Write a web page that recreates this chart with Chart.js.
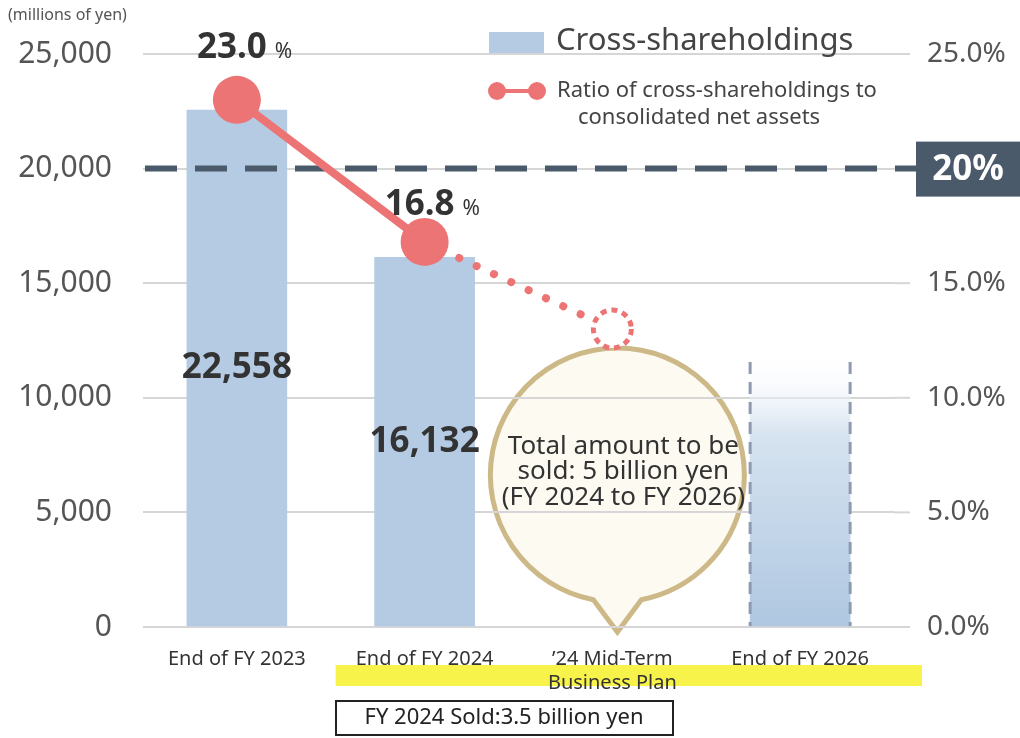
<!DOCTYPE html>
<html>
<head>
<meta charset="utf-8">
<script src="https://cdn.jsdelivr.net/npm/chart.js@4.4.1/dist/chart.umd.min.js"></script>
<style>
  html, body { margin: 0; padding: 0; background: #fff; }
  #wrap { width: 1020px; height: 738px; position: relative; }
</style>
</head>
<body>
<div id="wrap"><canvas id="mycanvas" width="1020" height="738"></canvas></div>
<script>
// data
var categories = ['End of FY 2023', 'End of FY 2024', ['\u201924 Mid-Term', 'Business Plan'], 'End of FY 2026'];
var holdings = [22558, 16132, null, 12000];      // millions of yen (last one is the plan bar)
var ratio = [23.0, 16.8, 13.0, null];             // % of consolidated net assets
var leftMax = 25000, leftStep = 5000;
var rightMax = 25, rightStep = 5;
var targetLine = 20;                               // 20% target

var FONT = "'Noto Sans', 'Open Sans', sans-serif";
var BAR = '#b5cbe3';
var RED = '#ec7474';
var SLATE = '#4a5a6b';

function planGradient(context) {
  var chart = context.chart;
  var area = chart.chartArea;
  if (!area) return BAR;
  var yTop = chart.scales.y.getPixelForValue(holdings[3]);
  var g = chart.ctx.createLinearGradient(0, yTop, 0, area.bottom);
  g.addColorStop(0, 'rgba(255,255,255,0)');
  g.addColorStop(0.3, '#d6e3f0');
  g.addColorStop(1, '#afc7e1');
  return g;
}

var decorations = {
  id: 'decorations',
  beforeDraw: function(chart) {
    var ctx = chart.ctx, x = chart.scales.x, y = chart.scales.y, area = chart.chartArea;
    ctx.save();
    // grid lines run a bit past the plot area
    ctx.strokeStyle = '#d6d6d6';
    ctx.lineWidth = 2;
    y.ticks.forEach(function(t) {
      var py = y.getPixelForValue(t.value);
      ctx.beginPath(); ctx.moveTo(area.right, py); ctx.lineTo(910, py); ctx.stroke();
    });
    // yellow band under second line of tick label
    ctx.fillStyle = '#f7f34a';
    var bl = x.getPixelForValue(1) - 89;
    ctx.fillRect(bl, 665, 922 - bl, 21);
    // speech balloon
    var cx = x.getPixelForValue(2) + 5, cy = 475, r = 127;
    var tipY = area.bottom + 5;
    ctx.beginPath();
    ctx.arc(cx, cy, r, Math.PI / 2 + 0.19, Math.PI / 2 - 0.19 + Math.PI * 2);
    ctx.lineTo(cx, tipY);
    ctx.closePath();
    ctx.fillStyle = 'rgba(253,250,240,0.9)';
    ctx.fill();
    ctx.lineWidth = 5;
    ctx.strokeStyle = '#cdb888';
    ctx.stroke();
    ctx.restore();
  },
  afterDatasetDraw: function(chart, args) {
    if (args.index !== 0) return;
    var ctx = chart.ctx, y = chart.scales.y1, area = chart.chartArea;
    var bar = chart.getDatasetMeta(0).data[3];
    ctx.save();
    // dashed outline of the planned bar
    ctx.strokeStyle = '#8c9bb0';
    ctx.lineWidth = 3;
    ctx.setLineDash([12, 8]);
    var half = bar.width / 2;
    ctx.beginPath();
    ctx.moveTo(bar.x - half, bar.y + 10); ctx.lineTo(bar.x - half, bar.base);
    ctx.moveTo(bar.x + half, bar.y + 10); ctx.lineTo(bar.x + half, bar.base);
    ctx.stroke();
    // 20% target line
    var ty = y.getPixelForValue(targetLine);
    ctx.strokeStyle = SLATE;
    ctx.lineWidth = 6;
    ctx.setLineDash([32, 18]);
    ctx.beginPath();
    ctx.moveTo(area.left + 2, ty);
    ctx.lineTo(916, ty);
    ctx.stroke();
    ctx.restore();
  },
  afterDraw: function(chart) {
    var ctx = chart.ctx, x = chart.scales.x, y = chart.scales.y, y1 = chart.scales.y1;
    ctx.save();
    // dotted ring at the plan point
    var lineMeta = chart.getDatasetMeta(1);
    var p = lineMeta.data[2];
    ctx.beginPath();
    ctx.arc(p.x, p.y, 19, 0, Math.PI * 2);
    ctx.fillStyle = '#fff';
    ctx.fill();
    ctx.setLineDash([6, 5]);
    ctx.lineWidth = 5;
    ctx.strokeStyle = RED;
    ctx.stroke();
    ctx.setLineDash([]);

    // bar value labels
    ctx.fillStyle = '#333';
    ctx.textAlign = 'center';
    ctx.textBaseline = 'middle';
    ctx.font = 'bold 35px ' + FONT;
    var bars = chart.getDatasetMeta(0).data;
    for (var i = 0; i < 2; i++) {
      ctx.fillText(holdings[i].toLocaleString('en-US'), bars[i].x, y.getPixelForValue(holdings[i] / 2));
    }

    // ratio labels
    for (var j = 0; j < 2; j++) {
      var pt = lineMeta.data[j];
      var txt = ratio[j].toFixed(1);
      ctx.font = 'bold 35px ' + FONT;
      var w = ctx.measureText(txt).width;
      ctx.textAlign = 'right';
      ctx.fillText(txt, pt.x + w / 2 - 5, pt.y - (j === 0 ? 52 : 37));
      ctx.font = '21px ' + FONT;
      ctx.textAlign = 'left';
      ctx.fillText('%', pt.x + w / 2 + 3, pt.y - (j === 0 ? 48 : 33));
    }

    // 20% box
    var ty = y1.getPixelForValue(targetLine);
    ctx.fillStyle = SLATE;
    ctx.fillRect(916, ty - 27, 104, 55);
    ctx.fillStyle = '#fff';
    ctx.font = 'bold 35px ' + FONT;
    ctx.textAlign = 'center';
    ctx.fillText(targetLine + '%', 968, ty + 1);

    // balloon text
    ctx.fillStyle = '#333';
    ctx.font = '26px ' + FONT;
    var bx = x.getPixelForValue(2) + 11;
    ctx.fillText('Total amount to be', bx, 447);
    ctx.fillText('sold: 5 billion yen', bx, 472);
    ctx.fillText('(FY 2024 to FY 2026)', bx, 498);

    // unit
    ctx.fillStyle = '#555';
    ctx.font = '16px ' + FONT;
    ctx.textAlign = 'left';
    ctx.fillText('(millions of yen)', 8, 15);

    // legend
    ctx.fillStyle = BAR;
    ctx.fillRect(489, 32, 55, 21);
    ctx.fillStyle = '#444';
    ctx.font = '31px ' + FONT;
    ctx.fillText('Cross-shareholdings', 556, 41);
    ctx.strokeStyle = RED;
    ctx.lineWidth = 4;
    ctx.beginPath(); ctx.moveTo(497, 91); ctx.lineTo(537, 91); ctx.stroke();
    ctx.fillStyle = RED;
    ctx.beginPath(); ctx.arc(497, 91, 9, 0, Math.PI * 2); ctx.fill();
    ctx.beginPath(); ctx.arc(537, 91, 9, 0, Math.PI * 2); ctx.fill();
    ctx.fillStyle = '#444';
    ctx.font = '22px ' + FONT;
    ctx.fillText('Ratio of cross-shareholdings to', 557, 91);
    ctx.fillText('consolidated net assets', 578, 118);

    // sold box
    ctx.strokeStyle = '#222';
    ctx.lineWidth = 2;
    ctx.strokeRect(336, 701, 337, 34);
    ctx.fillStyle = '#222';
    ctx.font = '22px ' + FONT;
    ctx.textAlign = 'center';
    ctx.fillText('FY 2024 Sold:3.5 billion yen', 504, 718);
    ctx.restore();
  }
};

var ctx = document.getElementById('mycanvas');

var chart = new Chart(ctx, {
  type: 'bar',
  data: {
    labels: categories,
    datasets: [
      {
        label: 'Cross-shareholdings',
        data: holdings,
        yAxisID: 'y',
        backgroundColor: function(c) { return c.dataIndex === 3 ? planGradient(c) : BAR; },
        barThickness: 100,
        order: 2
      },
      {
        type: 'line',
        label: 'Ratio of cross-shareholdings to consolidated net assets',
        data: ratio,
        yAxisID: 'y1',
        borderColor: RED,
        borderWidth: 8,
        borderCapStyle: 'round',
        pointRadius: [24, 24, 0, 0],
        pointBackgroundColor: RED,
        pointBorderWidth: 0,
        segment: {
          borderDash: function(s) { return s.p0DataIndex >= 1 ? [0.1, 19] : undefined; }
        },
        order: 1
      }
    ]
  },
  options: {
    responsive: false,
    animation: false,
    layout: { padding: { top: 54, left: 0, right: 0, bottom: 0 } },
    plugins: { legend: { display: false }, tooltip: { enabled: false } },
    scales: {
      x: {
        grid: { display: false },
        border: { display: false },
        ticks: { color: '#333', font: { family: FONT, size: 20 }, padding: 12, maxRotation: 0 },
        afterFit: function(s) { s.height = 111; }
      },
      y: {
        position: 'left',
        min: 0, max: leftMax,
        grid: { color: '#d6d6d6', lineWidth: 2, drawTicks: false },
        border: { display: false },
        ticks: {
          stepSize: leftStep, padding: 31, color: '#555',
          font: { family: FONT, size: 30 },
          callback: function(v) { return v.toLocaleString('en-US'); }
        },
        afterFit: function(s) { s.width = 143; }
      },
      y1: {
        position: 'right',
        min: 0, max: rightMax,
        grid: { display: false, drawTicks: false },
        border: { display: false },
        ticks: {
          stepSize: rightStep, padding: 33, color: '#555',
          font: { family: FONT, size: 28 },
          callback: function(v) { return v.toFixed(1) + '%'; }
        },
        afterFit: function(s) { s.width = 126; }
      }
    }
  },
  plugins: [decorations]
});
</script>
</body>
</html>
